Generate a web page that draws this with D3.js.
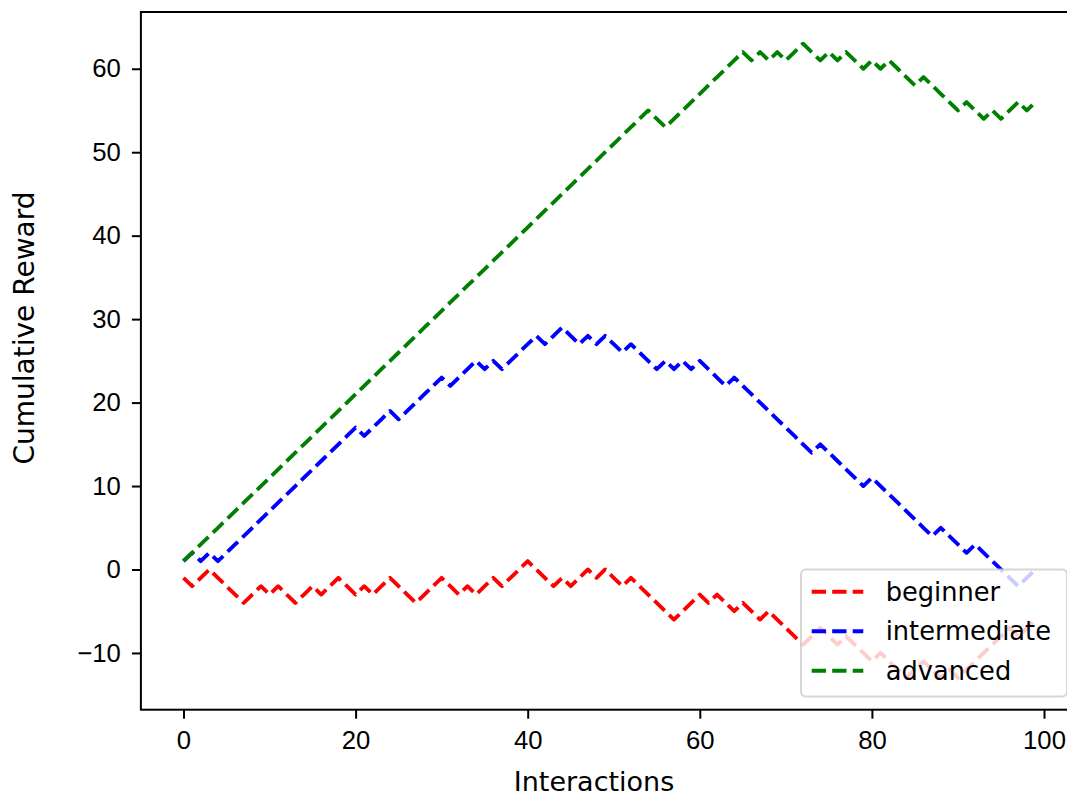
<!DOCTYPE html>
<html>
<head>
<meta charset="utf-8">
<script src="https://cdn.jsdelivr.net/npm/d3@7"></script>
<style>
  body { margin: 0; background: #fff; }
  svg { display: block; font-family: "DejaVu Sans", sans-serif; }
  .tick text { font-size: 25.7px; fill: #000; }
  .tick line { stroke: #000; stroke-width: 2; }
</style>
</head>
<body>
<svg id="chart" width="1067" height="799"></svg>
<script>
/* dados */
const seriesNames = ['beginner', 'intermediate', 'advanced'];
const seriesColors = ['#ff0000', '#0000ff', '#008000'];

const beginner = [
  -1, -2, -1, 0, -1, -2, -3, -4, -3, -2,
  -3, -2, -3, -4, -3, -2, -3, -2, -1, -2,
  -3, -2, -3, -2, -1, -2, -3, -4, -3, -2,
  -1, -2, -3, -2, -3, -2, -1, -2, -1, 0,
  1, 0, -1, -2, -1, -2, -1, 0, -1, 0,
  -1, -2, -1, -2, -3, -4, -5, -6, -5, -4,
  -3, -4, -3, -4, -5, -4, -5, -6, -5, -6,
  -7, -8, -9, -8, -7, -8, -9, -8, -9, -10,
  -11, -10, -11, -12, -13, -12, -11, -12, -13, -12,
  -13, -12, -11, -10, -9, -8, -7, -8, -7, -6
];

const intermediate = [
  1, 2, 1, 2, 1, 2, 3, 4, 5, 6,
  7, 8, 9, 10, 11, 12, 13, 14, 15, 16,
  17, 16, 17, 18, 19, 18, 19, 20, 21, 22,
  23, 22, 23, 24, 25, 24, 25, 24, 25, 26,
  27, 28, 27, 28, 29, 28, 27, 28, 27, 28,
  27, 26, 27, 26, 25, 24, 25, 24, 25, 24,
  25, 24, 23, 22, 23, 22, 21, 20, 19, 18,
  17, 16, 15, 14, 15, 14, 13, 12, 11, 10,
  11, 10, 9, 8, 7, 6, 5, 4, 5, 4,
  3, 2, 3, 2, 1, 0, -1, -2, -1, 0
];

const advanced = [
  1, 2, 3, 4, 5, 6, 7, 8, 9, 10,
  11, 12, 13, 14, 15, 16, 17, 18, 19, 20,
  21, 22, 23, 24, 25, 26, 27, 28, 29, 30,
  31, 32, 33, 34, 35, 36, 37, 38, 39, 40,
  41, 42, 43, 44, 45, 46, 47, 48, 49, 50,
  51, 52, 53, 54, 55, 54, 53, 54, 55, 56,
  57, 58, 59, 60, 61, 62, 61, 62, 61, 62,
  61, 62, 63, 62, 61, 62, 61, 62, 61, 60,
  61, 60, 61, 60, 59, 58, 59, 58, 57, 56,
  55, 56, 55, 54, 55, 54, 55, 56, 55, 56
];

const xTicks = [0, 20, 40, 60, 80, 100];
const yTicks = [-10, 0, 10, 20, 30, 40, 50, 60];

function grafico_linhas (div, series) {
    const svg = d3.select(div);

    const margin = { top: 12, left: 140.9 };
    const width = 1078 - margin.left;
    const height = 709.7 - margin.top;

    const chart = svg.append('g')
        .attr('transform', `translate(${margin.left}, ${margin.top})`)

    const n = series[0].values.length;
    const all = series.flatMap((s) => s.values);
    const xPad = (n - 1) * 0.05;
    const yPad = (d3.max(all) - d3.min(all)) * 0.05;

    const xScale = d3.scaleLinear()
        .range([0, width])
        .domain([-xPad, n - 1 + xPad])

    const yScale = d3.scaleLinear()
        .range([height, 0])
        .domain([d3.min(all) - yPad, d3.max(all) + yPad])

    svg.append('clipPath')
        .attr('id', 'plot-clip')
        .append('rect')
        .attr('width', width)
        .attr('height', height)

    /*eixo x*/
    chart.append('g')
        .attr('class', 'x axis')
        .attr('transform', `translate(0, ${height})`)
        .call(d3.axisBottom(xScale).tickValues(xTicks).tickSize(9).tickPadding(12))
        .call((g) => g.select('.domain').remove())

    /*eixo y*/
    chart.append('g')
        .attr('class', 'y axis')
        .call(d3.axisLeft(yScale).tickValues(yTicks).tickSize(9).tickPadding(11))
        .call((g) => g.select('.domain').remove())

    /*linhas*/
    const line = d3.line()
        .x((d, i) => xScale(i))
        .y((d) => yScale(d))

    chart.append('g')
        .attr('clip-path', 'url(#plot-clip)')
        .selectAll('path')
        .data(series)
        .enter()
        .append('path')
        .attr('d', (s) => line(s.values))
        .attr('fill', 'none')
        .attr('stroke', (s) => s.color)
        .attr('stroke-width', 3.85)
        .attr('stroke-dasharray', '14.3,6.2')
        .attr('stroke-linejoin', 'round')

    /*moldura*/
    chart.append('rect')
        .attr('width', width)
        .attr('height', height)
        .attr('fill', 'none')
        .attr('stroke', '#000')
        .attr('stroke-width', 2)

    /*titulos dos eixos*/
    svg.append('text')
        .attr('x', 594)
        .attr('y', 791)
        .attr('text-anchor', 'middle')
        .style('font-size', '27px')
        .text('Interactions')

    svg.append('text')
        .attr('transform', 'translate(34, 328) rotate(-90)')
        .attr('text-anchor', 'middle')
        .style('font-size', '28px')
        .text('Cumulative Reward')

    /*legenda*/
    const legend = svg.append('g')
        .attr('transform', 'translate(801, 569.5)')

    legend.append('rect')
        .attr('width', 266)
        .attr('height', 127)
        .attr('rx', 5)
        .attr('fill', '#fff')
        .attr('fill-opacity', 0.8)
        .attr('stroke', '#cccccc')
        .attr('stroke-opacity', 0.8)
        .attr('stroke-width', 2)

    const rows = legend.selectAll('.row')
        .data(series)
        .enter()
        .append('g')
        .attr('class', 'row')
        .attr('transform', (s, i) => `translate(0, ${22.2 + i * 39.5})`)

    rows.append('line')
        .attr('x1', 10.7)
        .attr('x2', 62.3)
        .attr('stroke', (s) => s.color)
        .attr('stroke-width', 3.85)
        .attr('stroke-dasharray', '14.3,6.2')

    rows.append('text')
        .attr('x', 84.7)
        .attr('dy', '0.36em')
        .style('font-size', '25.7px')
        .text((s) => s.name)
}

const series = seriesNames.map((name, i) => ({
    name: name,
    color: seriesColors[i],
    values: [beginner, intermediate, advanced][i]
}));

grafico_linhas('#chart', series);
</script>
</body>
</html>
